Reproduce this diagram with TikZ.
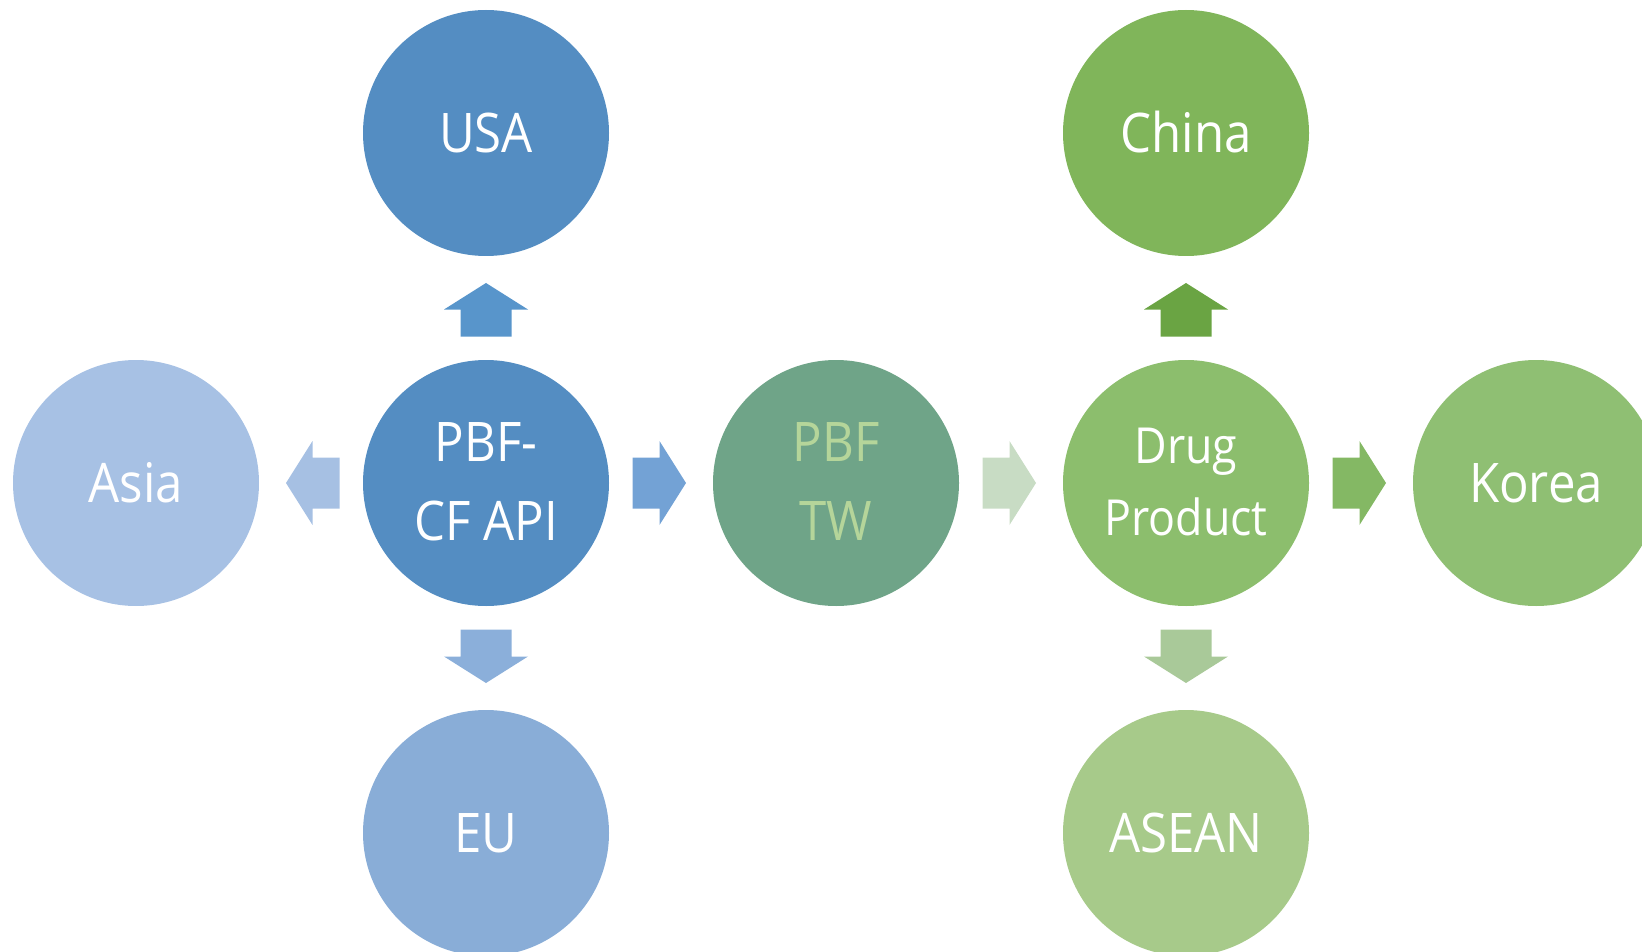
\documentclass[tikz,border=0pt]{standalone}
\usepackage{fontspec}
\setmainfont[FakeStretch=0.9]{Open Sans}
\usetikzlibrary{calc}
\definecolor{cUSA}{HTML}{548DC2}
\definecolor{cPBF}{HTML}{548DC2}
\definecolor{cAsia}{HTML}{A7C1E4}
\definecolor{cEU}{HTML}{89ADD7}
\definecolor{cTW}{HTML}{6FA488}
\definecolor{cTWtext}{HTML}{B5D59A}
\definecolor{cDrug}{HTML}{8CBE6D}
\definecolor{cChina}{HTML}{80B55A}
\definecolor{cKorea}{HTML}{8FBF73}
\definecolor{cASEAN}{HTML}{A7CA8A}
\definecolor{aUp}{HTML}{5895CB}
\definecolor{aLeft}{HTML}{A6C0E3}
\definecolor{aRight}{HTML}{73A2D5}
\definecolor{aDown}{HTML}{8BAFDA}
\definecolor{gRight}{HTML}{C8DCC4}
\definecolor{gUp}{HTML}{6AA443}
\definecolor{gRight2}{HTML}{84B864}
\definecolor{gDown}{HTML}{A9C999}
\begin{document}
\begin{tikzpicture}[x=1pt,y=-1pt,
  circ/.style={circle,minimum size=246pt,inner sep=0pt,draw=none},
  lbl/.style={anchor=base,inner sep=0pt,text=white,font=\fontsize{54.6}{66}\selectfont},
  lbls/.style={lbl,font=\fontsize{49.7}{60}\selectfont},
  barrow/.pic={\fill[pic actions] (-28.5,-25.5) -- (-1.5,-25.5) -- (-1.5,-42) -- (25,0) -- (-1.5,42) -- (-1.5,25.5) -- (-28.5,25.5) -- cycle;}
]
\useasboundingbox (0,0) rectangle (1642,952);
\clip (0,0) rectangle (1642,952);
% circles
\node[circ,fill=cUSA]   (usa)   at (486,133) {};
\node[circ,fill=cAsia]  (asia)  at (136,483) {};
\node[circ,fill=cPBF]   (pbf)   at (486,483) {};
\node[circ,fill=cEU]    (eu)    at (486,833) {};
\node[circ,fill=cTW]    (tw)    at (836,483) {};
\node[circ,fill=cChina] (china) at (1186,133) {};
\node[circ,fill=cDrug]  (drug)  at (1186,483) {};
\node[circ,fill=cASEAN] (asean) at (1186,833) {};
\node[circ,fill=cKorea] (korea) at (1536,483) {};
% labels
\node[lbl] (usaT)   at (486,152.5) {USA};
\node[lbl] (asiaT)  at (136,502.5) {Asia};
\node[lbl] (euT)    at (486,852.5) {EU};
\node[lbl] (pbfTa)  at (486,461) {PBF-};
\node[lbl] (pbfTb)  at (486,540) {CF API};
\node[lbl,text=cTWtext] (twTa) at (836,461) {PBF};
\node[lbl,text=cTWtext] (twTb) at (836,540) {TW};
\node[lbl] (chinaT) at (1186,152.5) {China};
\node[lbls] (drugTa) at (1186,463) {Drug};
\node[lbls] (drugTb) at (1186,535) {Product};
\node[lbl] (asean T) at (1186,852.5) {ASEAN};
\node[lbl] (koreaT) at (1536,502.5) {Korea};
% block arrows
\pic[fill=aUp,rotate=90]    at ($(pbf.center)!0.5!(usa.center)$)  {barrow};
\pic[fill=aLeft,rotate=180] at ($(pbf.center)!0.5!(asia.center)$) {barrow};
\pic[fill=aRight]           at ($(pbf.center)!0.5!(tw.center)$)   {barrow};
\pic[fill=aDown,rotate=-90] at ($(pbf.center)!0.5!(eu.center)$)   {barrow};
\pic[fill=gRight]           at ($(tw.center)!0.5!(drug.center)$)  {barrow};
\pic[fill=gUp,rotate=90]    at ($(drug.center)!0.5!(china.center)$) {barrow};
\pic[fill=gRight2]          at ($(drug.center)!0.5!(korea.center)$) {barrow};
\pic[fill=gDown,rotate=-90] at ($(drug.center)!0.5!(asean.center)$) {barrow};
\end{tikzpicture}
\end{document}
